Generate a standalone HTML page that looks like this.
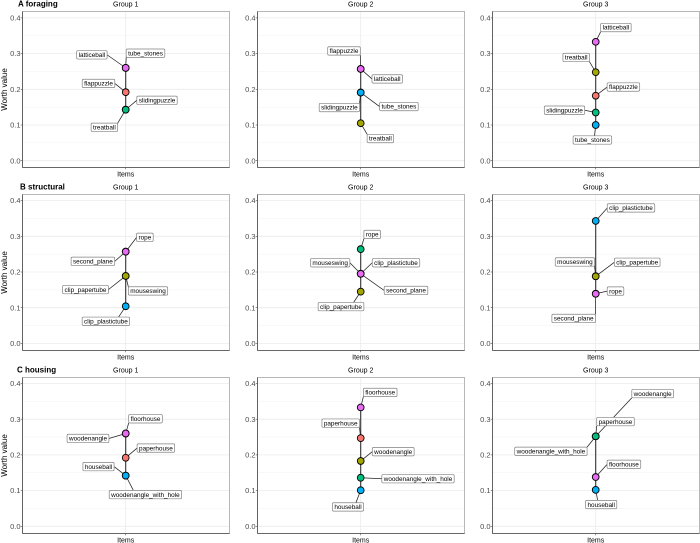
<!DOCTYPE html>
<html>
<head>
<meta charset="utf-8">
<style>
html,body{margin:0;padding:0;background:#fff;width:700px;height:543px;overflow:hidden}
svg{display:block;font-family:"Liberation Sans",Arial,sans-serif}
</style>
</head>
<body>
<svg id="chart" xmlns="http://www.w3.org/2000/svg" width="700" height="543" viewBox="0 0 700 543"></svg>
<script>
// ---- data ----
const foragingItems = ['flappuzzle','treatball','slidingpuzzle','tube_stones','latticeball'];
const foragingGroup1 = [0.192,0.143,0.143,0.260,0.260];
const foragingGroup2 = [0.257,0.105,0.191,0.191,0.257];
const foragingGroup3 = [0.182,0.248,0.135,0.100,0.333];

const structuralItems = ['mouseswing','clip_papertube','rope','clip_plastictube','second_plane'];
const structuralGroup1 = [0.189,0.189,0.257,0.104,0.257];
const structuralGroup2 = [0.195,0.145,0.264,0.195,0.195];
const structuralGroup3 = [0.188,0.188,0.139,0.343,0.139];

const housingItems = ['paperhouse','woodenangle','woodenangle_with_hole','houseball','floorhouse'];
const housingGroup1 = [0.192,0.260,0.142,0.142,0.260];
const housingGroup2 = [0.247,0.183,0.136,0.101,0.333];
const housingGroup3 = [0.252,0.252,0.252,0.102,0.138];

const yTicks = [0,0.1,0.2,0.3,0.4];
const yMinorTicks = [0.05,0.15,0.25,0.35];
const groupTitles = ['Group 1','Group 2','Group 3'];
const rowTitles = ['A foraging','B structural','C housing'];

// ---- layout (not data) ----
const palette = ['#F8766D','#A3A500','#00BF7D','#00B0F6','#E76BF3'];
const NS = 'http://www.w3.org/2000/svg';
const colLeft = [22.5,257.5,492.5];
const colRight = [229.5,464.5,699.5];
const rowTop = [11.5,194.5,377.5];
const rowBottom = [167.5,350.5,533.5];
const rowZero = [160.7,343.4,526.3];
const unit = 357;
const titleX = [18,20,17];
const labelOffsets = [
 [[[-27.2,-8.7],[-21.3,17.7],[31.3,-9.3],[19.8,-14.7],[-33.8,-13]],
  [[-16.7,-18],[19.7,15.3],[-21.3,15],[38.2,14],[26.5,10]],
  [[27.7,-8.7],[-19.5,-14.7],[-31.2,-2.3],[-3.3,15],[20.2,-14.3]]],
 [[[22.3,15],[-40.2,13.7],[19.2,-14.3],[-19.8,15],[-32.8,9.7]],
  [[-30.5,-11],[-19.7,15],[11.5,-14.7],[35.3,-11],[45.3,16.7]],
  [[-20.8,-14.3],[41.5,-14],[19.8,-2.7],[35.3,-13],[-22,24.7]]],
 [[[30.2,-9.7],[-37.7,5],[19.7,19],[-27.2,-9],[19.8,-14.7]],
  [[-20,-15],[32.5,-9.3],[57.3,1],[-12.7,16.7],[19.5,-15]],
  [[19.8,-14.7],[57,-42.7],[-44.8,15],[5.5,14.7],[28.2,-12.7]]]
];
const rows = [
 {key:'foraging',items:foragingItems,groups:[foragingGroup1,foragingGroup2,foragingGroup3]},
 {key:'structural',items:structuralItems,groups:[structuralGroup1,structuralGroup2,structuralGroup3]},
 {key:'housing',items:housingItems,groups:[housingGroup1,housingGroup2,housingGroup3]}
];

const svg = document.getElementById('chart');
function mk(parent,tag,attrs,text){
  const e = document.createElementNS(NS,tag);
  for(const k in attrs) e.setAttribute(k,attrs[k]);
  if(text!==undefined) e.textContent = text;
  parent.appendChild(e);
  return e;
}
function clamp(v,a,b){return Math.max(a,Math.min(b,v));}

// where a leader meets its label box
function leaderEnd(px,py,bx,by,w,h){
  const lx = bx + w/2, ly = by + h/2;
  const gap = py < by ? by - py : (py > by + h ? py - (by + h) : 0);
  const inside = px >= bx && px <= bx + w;
  if(inside){
    return [(px + lx)/2, ly];
  }
  const dx = px < bx ? bx - px : px - (bx + w);
  const ex = px < bx ? bx : bx + w;
  if(gap > dx){
    return [ex, clamp(py,by,by+h)];
  }
  return [ex, ly];
}

rows.forEach(function(row,r){
  const rowTitle = mk(svg,'text',{x:titleX[r],y:rowTop[r]-5,'font-size':8,'font-weight':'bold',fill:'#000'},rowTitles[r]);
  
  

  const yTitleY = (rowTop[r]+rowBottom[r])/2;
  const yTitle = mk(svg,'text',{x:0,y:0,'font-size':8,fill:'#000','text-anchor':'middle',transform:'translate(7,'+yTitleY+') rotate(-90)'},'Worth value');
  
  

  row.groups.forEach(function(values,c){
    const L = colLeft[c], R = colRight[c], T = rowTop[r], B = rowBottom[r];
    const cx = (L+R)/2 - 0.3;
    const y = function(v){ return rowZero[r] - v*unit; };

    const panel = mk(svg,'g',{});
    
    

    const bg = mk(panel,'rect',{x:L,y:T,width:R-L,height:B-T,fill:'#fff'});
    
    

    yMinorTicks.forEach(function(v){
      const g = mk(panel,'line',{x1:L,x2:R,y1:y(v),y2:y(v),stroke:'#f2f2f2','stroke-width':0.5});
      
      
    });
    yTicks.forEach(function(v){
      const g = mk(panel,'line',{x1:L,x2:R,y1:y(v),y2:y(v),stroke:'#ebebeb','stroke-width':0.8});
      
      
    });
    const vg = mk(panel,'line',{x1:cx,x2:cx,y1:T,y2:B,stroke:'#ebebeb','stroke-width':0.8});
    
    

    const title = mk(panel,'text',{x:cx,y:T-5,'font-size':7,fill:'#000','text-anchor':'middle'},groupTitles[c]);
    
    

    // connecting line through sorted values
    const sorted = values.slice().sort(function(a,b){return a-b;});
    const path = mk(panel,'line',{x1:cx,x2:cx,y1:y(sorted[0]),y2:y(sorted[sorted.length-1]),stroke:'#333','stroke-width':1.1});
    
    

    const labelLayer = mk(panel,'g',{});
    const leaderLayer = document.createElementNS(NS,'g');
    panel.insertBefore(leaderLayer,labelLayer);
    const pointLayer = document.createElementNS(NS,'g');
    panel.insertBefore(pointLayer,labelLayer);

    row.items.forEach(function(name,i){
      const py = y(values[i]);
      const off = labelOffsets[r][c][i];
      const lx = cx + off[0], ly = py + off[1];

      const box = mk(labelLayer,'rect',{fill:'#fff',stroke:'#808080','stroke-width':0.7,rx:1.3,ry:1.3});
      
      

      const t = mk(labelLayer,'text',{x:lx,y:ly+2.2,'font-size':6.4,fill:'#000','text-anchor':'middle'},name);
      
      

      const w = t.getComputedTextLength() + 3.8, h = 8.4;
      const bx = lx - w/2, by = ly - h/2;
      box.setAttribute('x',bx); box.setAttribute('y',by);
      box.setAttribute('width',w); box.setAttribute('height',h);

      const end = leaderEnd(cx,py,bx,by,w,h);
      const leader = mk(leaderLayer,'line',{x1:cx,y1:py,x2:end[0],y2:end[1],stroke:'#222','stroke-width':0.75});
      
      

      const pt = mk(pointLayer,'circle',{cx:cx,cy:py,r:3.4,fill:palette[i],stroke:'#000','stroke-width':0.9});
      
      
    });

    // panel border and axes
    const border = mk(panel,'rect',{x:L,y:T,width:R-L,height:B-T,fill:'none',stroke:'#a6a6a6','stroke-width':0.8});
    
    

    const yAxis = mk(panel,'line',{x1:L,x2:L,y1:T,y2:B,stroke:'#4d4d4d','stroke-width':0.8});
    
    

    const xAxis = mk(panel,'line',{x1:L,x2:R,y1:B,y2:B,stroke:'#4d4d4d','stroke-width':0.8});
    
    

    yTicks.forEach(function(v){
      const tick = mk(panel,'line',{x1:L-1.8,x2:L,y1:y(v),y2:y(v),stroke:'#4d4d4d','stroke-width':0.6});
      
      
      const lab = mk(panel,'text',{x:L-2,y:y(v)+2.6,'font-size':7.5,fill:'#4d4d4d','text-anchor':'end'},v.toFixed(1));
      
      
    });
    const xTick = mk(panel,'line',{x1:cx,x2:cx,y1:B,y2:B+1.8,stroke:'#4d4d4d','stroke-width':0.6});
    
    
    const xLab = mk(panel,'text',{x:cx,y:B+8.8,'font-size':7,fill:'#000','text-anchor':'middle'},'Items');
    
    
  });
});
</script>
</body>
</html>
